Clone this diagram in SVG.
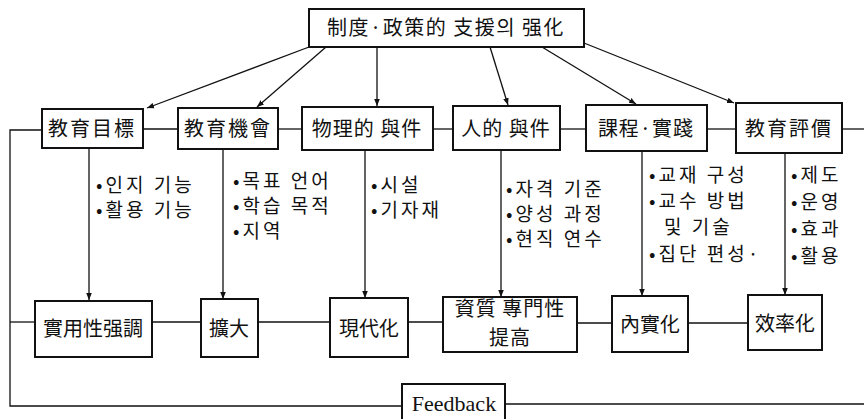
<svg xmlns="http://www.w3.org/2000/svg" width="864" height="419" viewBox="0 0 864 419">
<style>
.box{fill:#fff;stroke:#111;stroke-width:2}
.ln{fill:none;stroke:#111;stroke-width:1.3}
.t{font-family:"Noto Sans CJK KR","Noto Sans CJK TC",sans-serif;fill:#111;text-anchor:middle;font-size:20px}
.l{font-family:"Noto Sans CJK KR",sans-serif;fill:#111;font-size:19px;letter-spacing:3px}
.fb{font-family:"Liberation Serif",serif;fill:#111;text-anchor:middle;font-size:22px}
</style>
<defs>
<marker id="ah" viewBox="0 0 10 10" refX="10" refY="5" markerWidth="7" markerHeight="7" orient="auto" markerUnits="userSpaceOnUse">
<path d="M0,1 L10,5 L0,9 Z" fill="#111"/>
</marker>
</defs>
<g id="connectors">
<line class="ln" x1="309" y1="47" x2="147" y2="108" marker-end="url(#ah)"/>
<line class="ln" x1="326" y1="47" x2="257" y2="107" marker-end="url(#ah)"/>
<line class="ln" x1="377" y1="47" x2="377" y2="106" marker-end="url(#ah)"/>
<line class="ln" x1="490" y1="47" x2="508" y2="105" marker-end="url(#ah)"/>
<line class="ln" x1="542" y1="47" x2="636" y2="104" marker-end="url(#ah)"/>
<line class="ln" x1="584" y1="43" x2="734" y2="103" marker-end="url(#ah)"/>
<polyline class="ln" points="42,130 10,130 10,406 402,406"/>
<line class="ln" x1="10" y1="322" x2="35" y2="322"/>
<line class="ln" x1="505" y1="404" x2="864" y2="404"/>
<line class="ln" x1="143" y1="129" x2="178" y2="129"/>
<line class="ln" x1="278" y1="129" x2="302" y2="129"/>
<line class="ln" x1="433" y1="129" x2="453" y2="129"/>
<line class="ln" x1="560" y1="129" x2="586" y2="129"/>
<line class="ln" x1="707" y1="129" x2="736" y2="129"/>
<line class="ln" x1="842" y1="129" x2="864" y2="129"/>
<line class="ln" x1="152" y1="322" x2="201" y2="322"/>
<line class="ln" x1="258" y1="322" x2="330" y2="322"/>
<line class="ln" x1="408" y1="322" x2="443" y2="322"/>
<line class="ln" x1="577" y1="323" x2="612" y2="323"/>
<line class="ln" x1="688" y1="323" x2="748" y2="323"/>
<line class="ln" x1="89" y1="148" x2="89" y2="300" marker-end="url(#ah)"/>
<line class="ln" x1="223" y1="149" x2="223" y2="299" marker-end="url(#ah)"/>
<line class="ln" x1="365" y1="150" x2="365" y2="298" marker-end="url(#ah)"/>
<line class="ln" x1="501" y1="150" x2="501" y2="297" marker-end="url(#ah)"/>
<line class="ln" x1="642" y1="151" x2="642" y2="296" marker-end="url(#ah)"/>
<line class="ln" x1="785" y1="153" x2="785" y2="295" marker-end="url(#ah)"/>
</g>
<g id="top"><rect class="box" x="309" y="9" width="275" height="38"/><text class="t" x="446" y="35" letter-spacing="1.5">制度·政策的 支援의 强化</text></g>
<g id="goal"><rect class="box" x="42" y="109" width="101" height="39"/><text class="t" x="92" y="136" letter-spacing="2">教育目標</text></g>
<g id="opp"><rect class="box" x="178" y="108" width="100" height="41"/><text class="t" x="228" y="136" letter-spacing="2">教育機會</text></g>
<g id="phys"><rect class="box" x="302" y="107" width="131" height="43"/><text class="t" x="367" y="136" letter-spacing="1">物理的 與件</text></g>
<g id="human"><rect class="box" x="453" y="106" width="107" height="44"/><text class="t" x="506" y="136" letter-spacing="1">人的 與件</text></g>
<g id="course"><rect class="box" x="586" y="105" width="121" height="46"/><text class="t" x="646" y="136" letter-spacing="1">課程·實踐</text></g>
<g id="eval"><rect class="box" x="736" y="103" width="106" height="50"/><text class="t" x="789" y="136" letter-spacing="2">教育評價</text></g>
<g id="list1"><text class="l" x="96" y="192">•인지 기능</text><text class="l" x="96" y="217">•활용 기능</text></g>
<g id="list2"><text class="l" x="233" y="188">•목표 언어</text><text class="l" x="233" y="213">•학습 목적</text><text class="l" x="233" y="238">•지역</text></g>
<g id="list3"><text class="l" x="371" y="192">•시설</text><text class="l" x="371" y="217">•기자재</text></g>
<g id="list4"><text class="l" x="506" y="196">•자격 기준</text><text class="l" x="506" y="221">•양성 과정</text><text class="l" x="506" y="246">•현직 연수</text></g>
<g id="list5"><text class="l" x="649" y="182">•교재 구성</text><text class="l" x="649" y="208">•교수 방법</text><text class="l" x="664" y="234">및 기술</text><text class="l" x="649" y="261">•집단 편성·</text></g>
<g id="list6"><text class="l" x="791" y="182" letter-spacing="1">•제도</text><text class="l" x="791" y="209" letter-spacing="1">•운영</text><text class="l" x="791" y="236" letter-spacing="1">•효과</text><text class="l" x="791" y="263" letter-spacing="1">•활용</text></g>
<g id="prac"><rect class="box" x="35" y="301" width="117" height="56"/><text class="t" x="93" y="336" font-size="21">實用性强調</text></g>
<g id="expand"><rect class="box" x="201" y="299" width="57" height="58"/><text class="t" x="229" y="336" font-size="22">擴大</text></g>
<g id="modern"><rect class="box" x="330" y="298" width="78" height="59"/><text class="t" x="369" y="336" font-size="22">現代化</text></g>
<g id="quality"><rect class="box" x="443" y="297" width="134" height="55"/><text class="t" x="510" y="316" font-size="17" letter-spacing="1">資質 專門性</text><text class="t" x="510" y="345" font-size="17" letter-spacing="1">提高</text></g>
<g id="inner"><rect class="box" x="612" y="296" width="76" height="56"/><text class="t" x="650" y="332" font-size="22">內實化</text></g>
<g id="eff"><rect class="box" x="748" y="295" width="74" height="55"/><text class="t" x="785" y="331" font-size="22">效率化</text></g>
<g id="feedback"><rect class="box" x="402" y="384" width="103" height="36"/><text class="fb" x="454" y="411">Feedback</text></g>
</svg>
